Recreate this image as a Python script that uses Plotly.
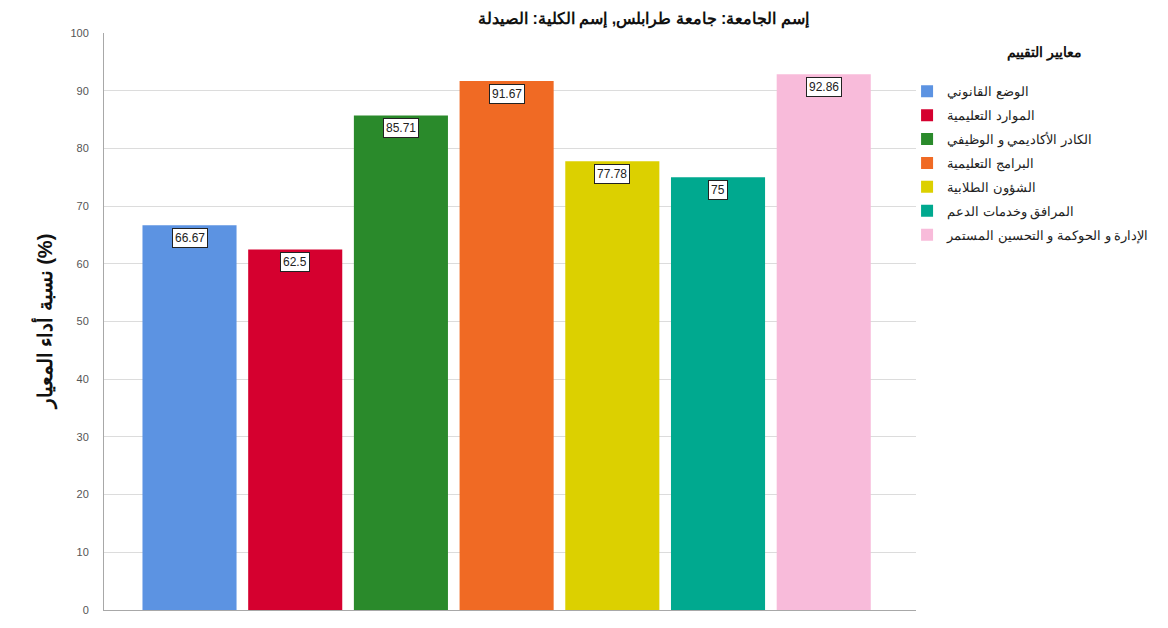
import plotly.graph_objects as go

categories = [
    "الوضع القانوني",
    "الموارد التعليمية",
    "الكادر الأكاديمي و الوظيفي",
    "البرامج التعليمية",
    "الشؤون الطلابية",
    "المرافق وخدمات الدعم",
    "الإدارة و الحوكمة و التحسين المستمر",
]
values = [66.67, 62.5, 85.71, 91.67, 77.78, 75, 92.86]
labels = ["66.67", "62.5", "85.71", "91.67", "77.78", "75", "92.86"]
colors = ["#5C93E2", "#D5002F", "#2A8A2B", "#F06A24", "#DCD000", "#00A98F", "#F8BBDA"]
y_ticks = [0, 10, 20, 30, 40, 50, 60, 70, 80, 90, 100]

title_text = "إسم الجامعة: جامعة طرابلس, إسم الكلية: الصيدلة"
y_title = "نسبة أداء المعيار (%)"
legend_title = "معايير التقييم"

FONT = "Liberation Sans, Arial"

fig = go.Figure()
for i, (cat, val, col) in enumerate(zip(categories, values, colors)):
    fig.add_trace(go.Bar(x=[cat], y=[val], name=cat, legendgroup=f"g{i}",
                         marker=dict(color=col, line=dict(width=0)), hoverinfo="y"))

for cat, val, lab in zip(categories, values, labels):
    fig.add_annotation(x=cat, y=val, text=lab, showarrow=False, yanchor="top", yshift=-3,
                       bgcolor="white", bordercolor="#222", borderwidth=1, borderpad=2,
                       font=dict(size=12, color="#222", family=FONT))

fig.add_annotation(xref="paper", yref="paper", x=-0.0727, y=0.5, text="<b>" + y_title + "</b>",
                   textangle=-90, showarrow=False, font=dict(size=20, color="#111", family=FONT),
                   xanchor="center", yanchor="middle")
fig.add_annotation(xref="paper", yref="paper", x=0.664, y=1.0, yshift=14,
                   text="<b>" + title_text + "</b>", showarrow=False,
                   font=dict(size=16, color="#111", family=FONT),
                   xanchor="center", yanchor="middle")
fig.add_annotation(xref="paper", yref="paper", x=1.158, y=1.0, yshift=-19,
                   text="<b>" + legend_title + "</b>", showarrow=False,
                   font=dict(size=14, color="#111", family=FONT),
                   xanchor="center", yanchor="middle")

fig.update_layout(
    width=1160, height=620,
    margin=dict(l=96, r=252, t=25, b=12),
    paper_bgcolor="white", plot_bgcolor="white",
    barmode="overlay", bargap=0.11,
    showlegend=True,
    legend=dict(x=0.989, y=0.925, xanchor="left", yanchor="top",
                font=dict(size=13, color="#222", family=FONT),
                itemwidth=30, tracegroupgap=4, bgcolor="rgba(0,0,0,0)"),
    xaxis=dict(type="category", range=[-0.809, 6.873], showticklabels=False, showgrid=False,
               showline=True, linecolor="#a8a8a8", linewidth=1, zeroline=False, ticks=""),
    yaxis=dict(range=[0, 100], tickvals=y_ticks, showgrid=True, gridcolor="#dcdcdc", gridwidth=1,
               showline=True, linecolor="#a8a8a8", linewidth=1, zeroline=False, ticks="",
               ticklabelstandoff=12,
               tickfont=dict(size=11, color="#555", family=FONT)),
    font=dict(family=FONT),
)

fig.write_html("out.html")
